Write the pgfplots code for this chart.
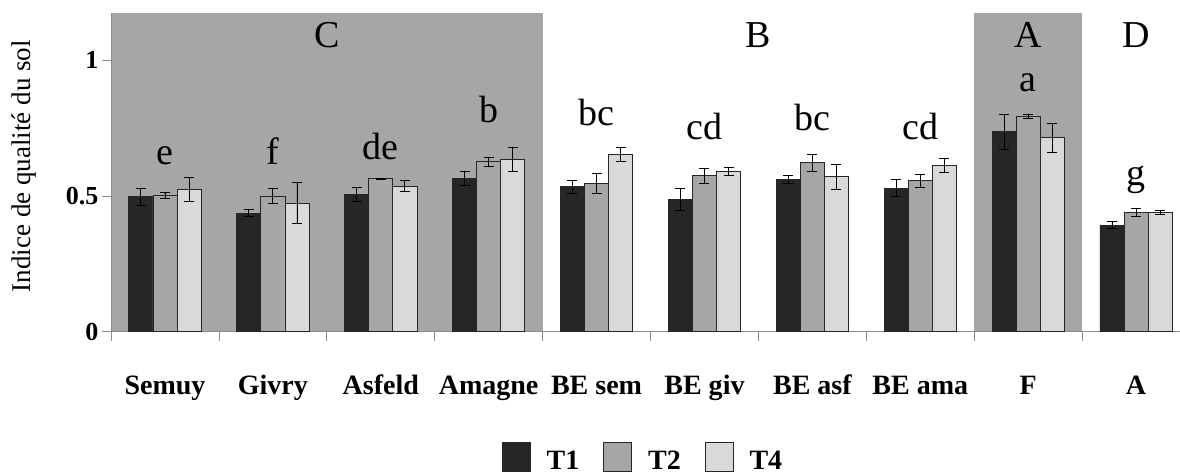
\documentclass[border=0pt]{standalone}
\usepackage{pgfplots}
\pgfplotsset{compat=1.18}
\usepackage{pgfplotstable}
\usepackage{fontspec}
\setmainfont{Liberation Serif}

\definecolor{tone}{HTML}{262626}
\definecolor{ttwo}{HTML}{A6A6A6}
\definecolor{tfour}{HTML}{D9D9D9}
\definecolor{bggray}{HTML}{A6A6A6}
\definecolor{axgray}{HTML}{8C8C8C}

% group index, mean and error for T1, T2, T4
\pgfplotstableread{
x  t1    e1    t2    e2    t4    e4
0  0.497 0.030 0.502 0.012 0.524 0.043
1  0.436 0.013 0.499 0.028 0.474 0.075
2  0.507 0.026 0.564 0.002 0.537 0.020
3  0.566 0.026 0.626 0.016 0.634 0.045
4  0.534 0.023 0.546 0.036 0.654 0.025
5  0.487 0.040 0.574 0.028 0.589 0.015
6  0.562 0.015 0.622 0.031 0.571 0.047
7  0.529 0.031 0.556 0.023 0.613 0.027
8  0.737 0.064 0.794 0.007 0.715 0.053
9  0.393 0.012 0.439 0.015 0.439 0.006
}\soil

\pgfplotsset{
  sq/.style={legend image code/.code={\draw[##1, line width=0.8bp] (0bp,-11bp) rectangle (28bp,18bp);}},
  barbase/.style={draw=black!85, line width=0.8bp, sq,
    error bars/.cd, y dir=both, y explicit,
    error bar style={black, line width=0.8bp},
    error mark=-,
    error mark options={black, line width=0.8bp, mark size=5bp, rotate=90}},
}

\begin{document}
\begin{tikzpicture}
\begin{axis}[
  at={(0,0)}, anchor=south west,
  scale only axis, width=1069bp, height=319bp,
  set layers, clip=false,
  xmin=-0.5, xmax=9.407, ymin=0, ymax=1.175,
  ybar=0pt, bar width=24.1bp,
  axis x line*=bottom, axis y line*=left,
  axis line style={axgray, line width=0.8bp, -},
  tick style={axgray, line width=0.8bp},
  tick align=outside, major tick length=9bp,
  xtick={-0.5,0.5,...,8.5},
  xticklabels={Semuy,Givry,Asfeld,Amagne,BE sem,BE giv,BE asf,BE ama,F,A},
  xticklabel style={anchor=base, xshift=53.95bp, yshift=-53.3bp,
    font=\fontsize{28bp}{30bp}\selectfont\bfseries},
  ytick={0,0.5,1},
  yticklabel style={font=\fontsize{26bp}{28bp}\selectfont\bfseries},
  /pgf/number format/assume math mode=true,
  ylabel={Indice de qualité du sol},
  ylabel style={at={(axis description cs:-0.0814,0.519)}, anchor=center,
    font=\fontsize{27bp}{29bp}\selectfont},
  legend style={at={(axis description cs:0.4977,-0.394)}, anchor=center,
    draw=none, fill=none, legend columns=3,
    font=\fontsize{28bp}{30bp}\selectfont\bfseries,
    /tikz/every odd column/.append style={column sep=14bp},
    /tikz/every even column/.append style={column sep=22bp}},
]
\begin{pgfonlayer}{axis background}
\fill[bggray] (axis cs:-0.5,0) rectangle (axis cs:3.5,1.175);
\fill[bggray] (axis cs:7.5,0) rectangle (axis cs:8.5,1.175);
\end{pgfonlayer}

\addplot[fill=tone, barbase] table[x=x, y=t1, y error=e1] {\soil};
\addlegendentry{T1}
\addplot[fill=ttwo, barbase] table[x=x, y=t2, y error=e2] {\soil};
\addlegendentry{T2}
\addplot[fill=tfour, barbase] table[x=x, y=t4, y error=e4] {\soil};
\addlegendentry{T4}

\begin{scope}[every node/.style={anchor=base, font=\fontsize{38bp}{40bp}\selectfont}]
\node at (axis cs:1.5,1.045) {C};
\node at (axis cs:5.5,1.045) {B};
\node at (axis cs:8,1.045) {A};
\node at (axis cs:9,1.045) {D};
\node at (axis cs:0,0.617) {e};
\node at (axis cs:1,0.615) {f};
\node at (axis cs:2,0.636) {de};
\node at (axis cs:3,0.771) {b};
\node at (axis cs:4,0.758) {bc};
\node at (axis cs:5,0.707) {cd};
\node at (axis cs:6,0.740) {bc};
\node at (axis cs:7,0.707) {cd};
\node at (axis cs:8,0.885) {a};
\node at (axis cs:9,0.537) {g};
\end{scope}
\end{axis}
\pgfresetboundingbox
\path[use as bounding box] (-111bp,-142.3bp) rectangle (1069bp,331.7bp);
\end{tikzpicture}
\end{document}
